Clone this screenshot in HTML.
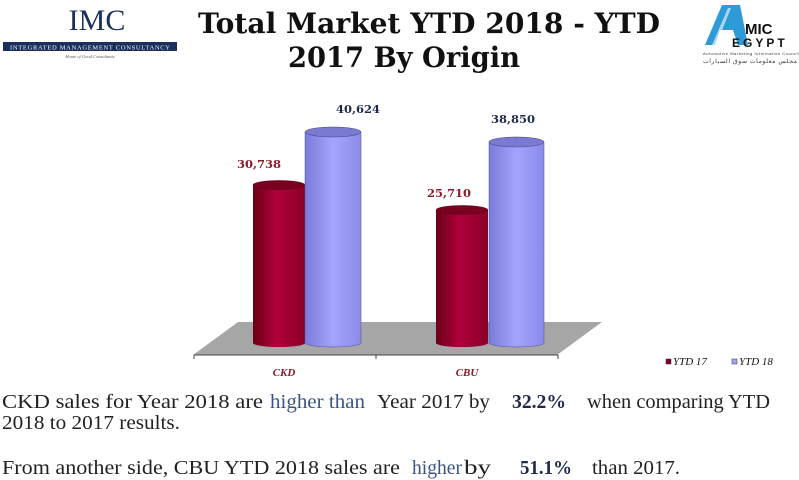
<!DOCTYPE html>
<html><head><meta charset="utf-8"><style>
html,body{margin:0;padding:0;background:#fff;}
svg{display:block}
</style></head><body>
<svg width="799" height="480" viewBox="0 0 799 480" xmlns="http://www.w3.org/2000/svg">
<defs>
<linearGradient id="red" x1="0" x2="1" y1="0" y2="0">
<stop offset="0" stop-color="#6a0018"/><stop offset="0.45" stop-color="#b0003a"/><stop offset="1" stop-color="#8a0028"/>
</linearGradient>
<linearGradient id="blue" x1="0" x2="1" y1="0" y2="0">
<stop offset="0" stop-color="#7b7bd8"/><stop offset="0.5" stop-color="#a4a4ff"/><stop offset="1" stop-color="#8a8ae8"/>
</linearGradient>
</defs>
<!-- IMC logo -->
<text x="97" y="30" text-anchor="middle" font-family="Liberation Serif, serif" font-size="30" fill="#1a2f5e">IMC</text>
<rect x="3" y="42" width="174" height="9" fill="#1a2f5e"/>
<text x="90" y="49.5" text-anchor="middle" font-family="Liberation Serif, serif" font-size="6.5" fill="#fff" textLength="160">INTEGRATED MANAGEMENT CONSULTANCY</text>
<text x="90" y="58" text-anchor="middle" font-family="Liberation Serif, serif" font-size="4.5" font-style="italic" fill="#555">Home of Good Consultants</text>
<!-- AMIC logo -->
<polygon points="705,45 722,5 740,5 748,45 738,45 733,30 720,30 715,45" fill="#2e9ad8"/>
<polygon points="712,45 728,8 731,8 716,45" fill="#fff" opacity="0.6"/>
<text x="745" y="34" font-family="Liberation Sans, sans-serif" font-size="15" font-weight="bold" fill="#111">MIC</text>
<text x="732" y="47" font-family="Liberation Sans, sans-serif" font-size="12" font-weight="bold" fill="#111" letter-spacing="3">EGYPT</text>
<text x="703" y="55" font-family="Liberation Sans, sans-serif" font-size="4" fill="#333" textLength="96">Automotive Marketing Information Council</text>
<text x="703" y="63" font-family="Liberation Sans, sans-serif" font-size="6" fill="#333" textLength="94">مجلس معلومات سوق السيارات</text>
<!-- Title -->
<text x="198" y="33" font-family="DejaVu Serif, serif" font-weight="bold" font-size="28" fill="#111" textLength="462" lengthAdjust="spacingAndGlyphs">Total Market YTD 2018 - YTD</text>
<text x="288" y="67" font-family="DejaVu Serif, serif" font-weight="bold" font-size="28" fill="#111" textLength="232" lengthAdjust="spacingAndGlyphs">2017 By Origin</text>
<!-- floor -->
<polygon points="238,322 602,322 557,355 193,355" fill="#a6a6a6"/>
<line x1="194" y1="355" x2="558" y2="355" stroke="#444" stroke-width="1"/>
<line x1="194" y1="355" x2="194" y2="359" stroke="#444"/>
<line x1="376" y1="355" x2="376" y2="359" stroke="#444"/>
<line x1="558" y1="355" x2="558" y2="359" stroke="#444"/>
<!-- CKD red -->
<path d="M253,185 L253,343 A26,4 0 0 0 305,343 L305,185 Z" fill="url(#red)"/>
<ellipse cx="279" cy="185" rx="26" ry="4.5" fill="#7a0020" stroke="#5a0015" stroke-width="0.5"/>
<!-- CKD blue -->
<path d="M305,132 L305,343 A28,4 0 0 0 361,343 L361,132 Z" fill="url(#blue)" stroke="#5050a0" stroke-width="0.5"/>
<ellipse cx="333" cy="132" rx="28" ry="5" fill="#7a7ad0" stroke="#404090" stroke-width="0.5"/>
<!-- CBU red -->
<path d="M436,210 L436,343 A26,4 0 0 0 488,343 L488,210 Z" fill="url(#red)"/>
<ellipse cx="462" cy="210" rx="26" ry="4.5" fill="#7a0020" stroke="#5a0015" stroke-width="0.5"/>
<!-- CBU blue -->
<path d="M489,142 L489,343 A27.5,4 0 0 0 544,343 L544,142 Z" fill="url(#blue)" stroke="#5050a0" stroke-width="0.5"/>
<ellipse cx="516.5" cy="142" rx="27.5" ry="5" fill="#7a7ad0" stroke="#404090" stroke-width="0.5"/>
<!-- value labels -->
<g font-family="DejaVu Serif, serif" font-weight="bold" font-size="11.5">
<text x="259" y="168" text-anchor="middle" fill="#8b1a2a">30,738</text>
<text x="358" y="113" text-anchor="middle" fill="#1f2a4a">40,624</text>
<text x="449" y="197" text-anchor="middle" fill="#8b1a2a">25,710</text>
<text x="513" y="123" text-anchor="middle" fill="#1f2a4a">38,850</text>
</g>
<g font-family="Liberation Serif, serif" font-weight="bold" font-style="italic" font-size="11" fill="#8b1a2a">
<text x="284" y="376" text-anchor="middle">CKD</text>
<text x="467" y="376" text-anchor="middle">CBU</text>
</g>
<!-- legend -->
<rect x="666" y="359" width="5" height="5" fill="#7a0020" stroke="#333" stroke-width="0.5"/>
<text x="673" y="365" font-family="Liberation Serif, serif" font-style="italic" font-size="11" fill="#111">YTD 17</text>
<rect x="732" y="359" width="5" height="5" fill="#a4a4ff" stroke="#333" stroke-width="0.5"/>
<text x="739" y="365" font-family="Liberation Serif, serif" font-style="italic" font-size="11" fill="#111">YTD 18</text>
<!-- body text -->
<g font-family="Liberation Serif, serif" font-size="20" fill="#222">
<text x="2" y="408" textLength="261" lengthAdjust="spacingAndGlyphs">CKD sales for Year 2018 are</text>
<text x="270" y="408" fill="#3a5580" textLength="95" lengthAdjust="spacingAndGlyphs">higher than</text>
<text x="377" y="408" textLength="113" lengthAdjust="spacingAndGlyphs">Year 2017 by</text>
<text x="512" y="408" font-weight="bold" fill="#1f2a4a" textLength="54" lengthAdjust="spacingAndGlyphs">32.2%</text>
<text x="587" y="408" textLength="183" lengthAdjust="spacingAndGlyphs">when comparing YTD</text>
<text x="2" y="429" textLength="178" lengthAdjust="spacingAndGlyphs">2018 to 2017 results.</text>
<text x="2" y="474" textLength="398" lengthAdjust="spacingAndGlyphs">From another side, CBU YTD 2018 sales are</text>
<text x="412" y="474" fill="#3a5580" textLength="50" lengthAdjust="spacingAndGlyphs">higher</text>
<text x="464" y="474" textLength="27" lengthAdjust="spacingAndGlyphs">by</text>
<text x="520" y="474" font-weight="bold" fill="#1f2a4a" textLength="52" lengthAdjust="spacingAndGlyphs">51.1%</text>
<text x="592" y="474" textLength="88" lengthAdjust="spacingAndGlyphs">than 2017.</text>
</g>
</svg>
</body></html>
